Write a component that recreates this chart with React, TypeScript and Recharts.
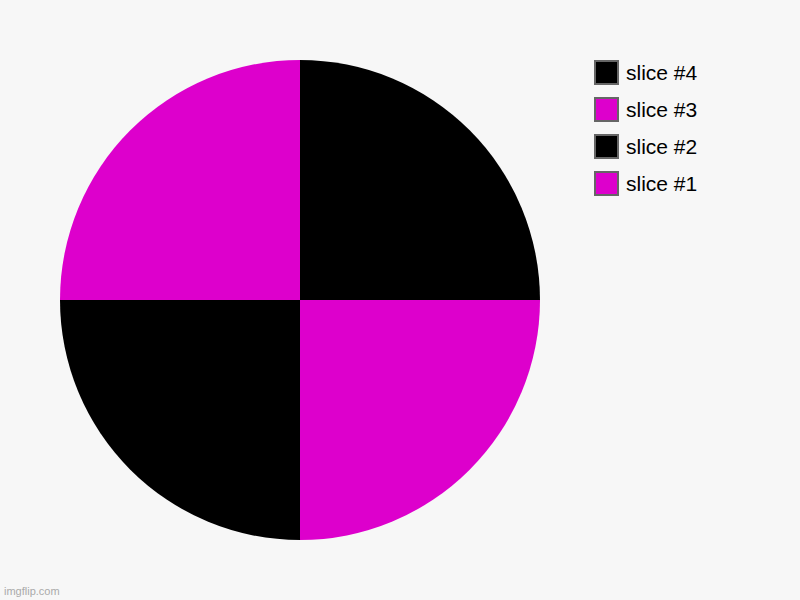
import { PieChart, Pie, Cell, Legend } from 'recharts'

const sliceNames = ['slice #1', 'slice #2', 'slice #3', 'slice #4']
const sliceValues = [1, 1, 1, 1]
const sliceColors = ['#dd00cc', '#000000', '#dd00cc', '#000000']

const data = sliceNames.map((name, i) => ({ name, value: sliceValues[i] }))

function LegendList({ payload }: { payload?: any[] }) {
  const items = [...(payload || [])].reverse()
  return (
    <div>
      {items.map((item) => (
        <div key={item.value} style={{ display: 'flex', alignItems: 'center', height: 37 }}>
          <span
            style={{
              width: 21,
              height: 21,
              background: item.color,
              border: '2px solid #666',
              marginRight: 7,
              flexShrink: 0,
            }}
          />
          <span style={{ fontSize: 21, color: '#000', lineHeight: '24px' }}>{item.value}</span>
        </div>
      ))}
    </div>
  )
}

export default function App() {
  return (
    <div
      style={{
        position: 'absolute',
        top: 0,
        left: 0,
        width: 800,
        height: 600,
        background: '#f7f7f7',
        fontFamily: 'Arial, "Liberation Sans", sans-serif',
      }}
    >
      <PieChart width={800} height={600} margin={{ top: 0, right: 0, bottom: 0, left: 0 }}>
        <Pie
          data={data}
          dataKey="value"
          nameKey="name"
          cx={300}
          cy={300}
          outerRadius={240}
          startAngle={0}
          endAngle={-360}
          stroke="none"
          isAnimationActive={false}
        >
          {data.map((d, i) => (
            <Cell key={d.name} fill={sliceColors[i]} />
          ))}
        </Pie>
        <Legend
          content={<LegendList />}
          layout="vertical"
          wrapperStyle={{ position: 'absolute', top: 54, left: 594, width: 160 }}
        />
      </PieChart>
      <div style={{ position: 'absolute', left: 4, bottom: 3, fontSize: 11, color: '#aaa' }}>imgflip.com</div>
    </div>
  )
}
